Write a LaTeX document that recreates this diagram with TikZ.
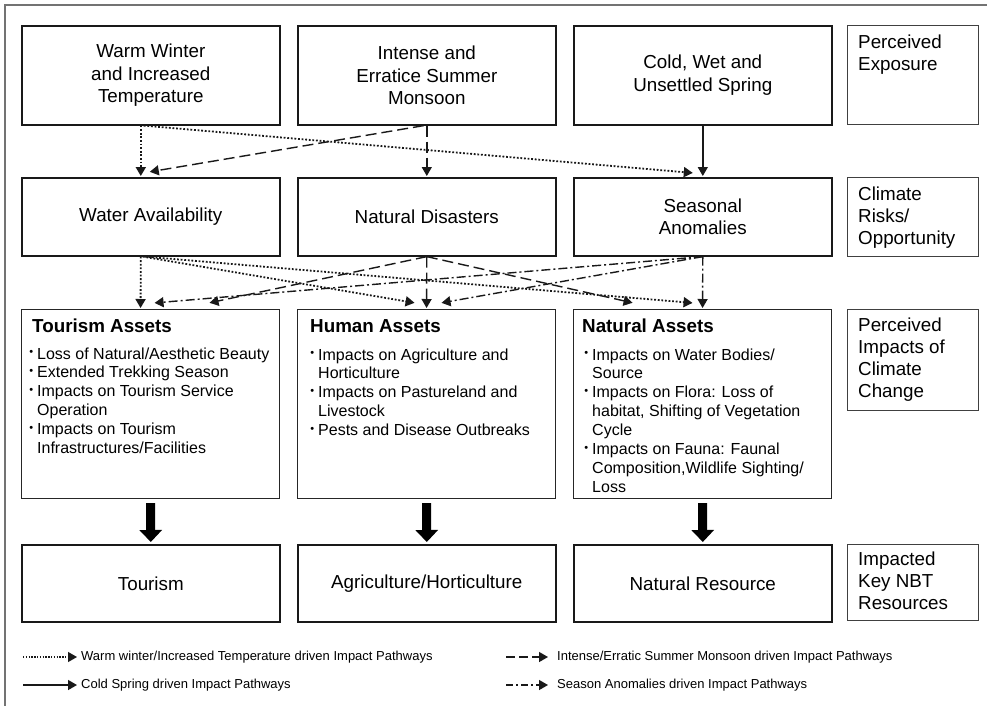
\documentclass[tikz,border=0pt]{standalone}
\usepackage{fontspec}
\setmainfont{Liberation Sans}
\usetikzlibrary{arrows.meta}

% small raised bullet hanging to the left of an item line
\newcommand{\bul}{\leavevmode\llap{\raisebox{3.5pt}{\fontsize{11}{11}\selectfont\textbullet}\hspace{4pt}}}

\tikzset{
  x=1pt, y=-1pt,
  frame/.style={draw=black!55, line width=1.3pt},
  mainbox/.style={draw=black!90, line width=1.6pt, anchor=north west, minimum width=258pt,
    inner sep=0pt, align=center, font=\fontsize{18.8}{22.5}\selectfont},
  assetbox/.style={draw=black!85, line width=1.1pt, anchor=north west, minimum width=258pt,
    minimum height=189pt, inner sep=0pt},
  labelbox/.style={draw=black!75, line width=1pt, anchor=north west, minimum width=131pt, inner sep=0pt},
  labeltext/.style={anchor=base west, inner sep=0pt, font=\fontsize{18.8}{22}\selectfont},
  heading/.style={anchor=base west, inner sep=0pt, font=\bfseries\fontsize{18.8}{22}\selectfont},
  itemtext/.style={anchor=base west, inner sep=0pt, font=\fontsize{16}{18.9}\selectfont},
  legtext/.style={anchor=west, inner sep=0pt, font=\fontsize{13}{15}\selectfont},
  tip/.style={-{Triangle[length=9pt,width=10pt]}},
  path/.style={tip, line width=1.4pt, draw=black!90, shorten >=1pt},
  warmpath/.style={path, line width=1.8pt, dash pattern=on 1.8pt off 1.8pt},
  monpath/.style={path, dash pattern=on 11pt off 5pt},
  coldpath/.style={path},
  anompath/.style={path, dash pattern=on 9pt off 3pt on 2pt off 3pt},
  bigarrow/.style={line width=9pt, draw=black, -{Triangle[length=12pt,width=22pt]}},
}

\begin{document}
\begin{tikzpicture}
\useasboundingbox (0,0) rectangle (987,705);
\clip (0,0) rectangle (987,705);

% outer frame
\draw[frame] (5,5) rectangle (1000,720);

% exposure row
\node[mainbox, minimum height=99pt] (warm) at (21,25) {Warm Winter\\and Increased\\Temperature};
\node[mainbox, minimum height=99pt] (intense) at (297,25) {Intense and\\Erratice Summer\\Monsoon};
\node[mainbox, minimum height=99pt] (cold) at (573,25) {Cold, Wet and\\Unsettled Spring};
\node[labelbox, minimum height=99pt] (lab1) at (847,25) {};
\node[labeltext] (lab1t) at ([xshift=11pt,yshift=-23pt]lab1.north west) {\parbox[t]{125pt}{Perceived\\Exposure}};

% risk row
\node[mainbox, minimum height=78pt] (water) at (21,177) {Water Availability};
\node[mainbox, minimum height=78pt] (disas) at (297,177) {Natural Disasters};
\node[mainbox, minimum height=78pt] (seas) at (573,177) {Seasonal\\Anomalies};
\node[labelbox, minimum height=79pt] (lab2) at (847,177) {};
\node[labeltext] (lab2t) at ([xshift=11pt,yshift=-23pt]lab2.north west) {\parbox[t]{125pt}{Climate\\Risks/\\Opportunity}};

% impact row
\node[assetbox] (ta) at (21,309) {};
\node[assetbox] (ha) at (297,309) {};
\node[assetbox] (na) at (573,309) {};
\node[labelbox, minimum height=101pt] (lab3) at (847,309) {};
\node[labeltext] (lab3t) at ([xshift=11pt,yshift=-22pt]lab3.north west) {\parbox[t]{125pt}{Perceived\\Impacts of\\Climate\\Change}};

\node[heading] (tah) at ([xshift=11pt,yshift=-23pt]ta.north west) {Tourism Assets};
\node[itemtext] (tai) at ([xshift=16pt,yshift=-50pt]ta.north west) {\parbox[t]{300pt}{\raggedright
  \bul Loss of Natural/Aesthetic Beauty\\
  \bul Extended Trekking Season\\
  \bul Impacts on Tourism Service\\
  Operation\\
  \bul Impacts on Tourism\\
  Infrastructures/Facilities}};

\node[heading] (hah) at ([xshift=13pt,yshift=-23pt]ha.north west) {Human Assets};
\node[itemtext] (hai) at ([xshift=21pt,yshift=-51pt]ha.north west) {\parbox[t]{300pt}{\raggedright
  \bul Impacts on Agriculture and\\
  Horticulture\\
  \bul Impacts on Pastureland and\\
  Livestock\\
  \bul Pests and Disease Outbreaks}};

\node[heading] (nah) at ([xshift=9pt,yshift=-23pt]na.north west) {Natural Assets};
\node[itemtext] (nai) at ([xshift=19pt,yshift=-51pt]na.north west) {\parbox[t]{300pt}{\raggedright
  \bul Impacts on Water Bodies/\\
  Source\\
  \bul Impacts on Flora: Loss of\\
  habitat, Shifting of Vegetation\\
  Cycle\\
  \bul Impacts on Fauna: Faunal\\
  Composition,Wildlife Sighting/\\
  Loss}};

% resource row
\node[mainbox, minimum height=77pt] (tour) at (21,544) {Tourism};
\node[mainbox, minimum height=77pt] (agri) at (297,544) {Agriculture/Horticulture};
\node[mainbox, minimum height=77pt] (natr) at (573,544) {Natural Resource};
\node[labelbox, minimum height=76pt] (lab4) at (847,544) {};
\node[labeltext] (lab4t) at ([xshift=11pt,yshift=-21pt]lab4.north west) {\parbox[t]{125pt}{Impacted\\Key NBT\\Resources}};

% exposure -> risk pathways
\draw[warmpath] ([xshift=-10pt]warm.south) -- ([xshift=-10pt]water.north);
\draw[warmpath] ([xshift=-7pt]warm.south) -- ([xshift=-9pt,yshift=4pt]seas.north);
\draw[monpath] ([xshift=-3pt]intense.south) -- ([xshift=-2pt,yshift=5pt]water.north);
\draw[monpath] (intense.south) -- (disas.north);
\draw[coldpath] (cold.south) -- (seas.north);

% risk -> impact pathways
\draw[warmpath] ([xshift=-10pt]water.south) -- ([xshift=-10pt]ta.north);
\draw[warmpath] ([xshift=-8pt]water.south) -- ([xshift=-11pt,yshift=6pt]ha.north);
\draw[warmpath] ([xshift=-6pt]water.south) -- ([xshift=-9pt,yshift=6pt]na.north);
\draw[monpath] (disas.south) -- ([xshift=58pt,yshift=6pt]ta.north);
\draw[monpath] (disas.south) -- (ha.north);
\draw[monpath] (disas.south) -- ([xshift=-69pt,yshift=6pt]na.north);
\draw[anompath] (seas.south) -- ([xshift=3pt,yshift=6pt]ta.north);
\draw[anompath] (seas.south) -- ([xshift=14pt,yshift=6pt]ha.north);
\draw[anompath] (seas.south) -- (na.north);

% impact -> resource
\draw[bigarrow] ([yshift=-4pt]ta.south) -- ([yshift=2pt]tour.north);
\draw[bigarrow] ([yshift=-4pt]ha.south) -- ([yshift=2pt]agri.north);
\draw[bigarrow] ([yshift=-4pt]na.south) -- ([yshift=2pt]natr.north);

% legend
\coordinate (lg1a) at (23,657);
\node[legtext] (lg1) at (81,657) {Warm winter/Increased Temperature driven Impact Pathways};
\draw[warmpath, line width=1.2pt, dash pattern=on 1.4pt off 1.4pt, shorten >=4pt] (lg1a) -- (lg1.west);
\coordinate (lg2a) at (23,685);
\node[legtext] (lg2) at (81,685) {Cold Spring driven Impact Pathways};
\draw[coldpath, shorten >=4pt] (lg2a) -- (lg2.west);
\coordinate (lg3a) at (506,657);
\node[legtext] (lg3) at (557,657) {Intense/Erratic Summer Monsoon driven Impact Pathways};
\draw[monpath, dash pattern=on 9pt off 4pt, shorten >=9pt] (lg3a) -- (lg3.west);
\coordinate (lg4a) at (506,685);
\node[legtext] (lg4) at (557,685) {Season Anomalies driven Impact Pathways};
\draw[anompath, dash pattern=on 7pt off 3pt on 2pt off 3pt, shorten >=9pt] (lg4a) -- (lg4.west);
\end{tikzpicture}
\end{document}
